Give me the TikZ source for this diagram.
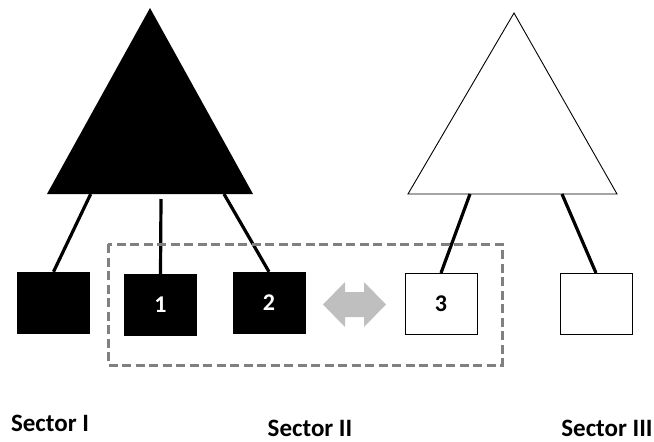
\documentclass[tikz,border=0pt]{standalone}
\usepackage{fontspec}
\setmainfont{Carlito}

\begin{document}
\begin{tikzpicture}[x=1pt, y=-1pt,
  darkbox/.style={draw=black, fill=black, text=white, minimum width=72pt, minimum height=61pt, inner sep=0pt, font=\bfseries\fontsize{24}{24}\selectfont},
  lightbox/.style={darkbox, fill=white, draw=black, line width=1pt, text=black},
  stem/.style={line width=3.2pt},
  sectorname/.style={font=\bfseries\fontsize{25}{25}\selectfont}
]
\useasboundingbox (0,0) rectangle (654,442);

% the two triangles
\coordinate (ba) at (150,8);
\coordinate (bl) at (47,194);
\coordinate (br) at (253,194);
\fill[black] (ba) -- (bl) -- (br) -- cycle;
\coordinate (wa) at (514,13);
\coordinate (wl) at (408,194);
\coordinate (wr) at (617,194);
\draw[black, line width=0.9pt] (wa) -- (wl) -- (wr) -- cycle;

% boxes
\node[darkbox] (s1) at (53.5,302.5) {};
\node[darkbox] (f1) at (160.5,304.5) {1};
\node[darkbox] (f2) at (269,302.5) {2};
\node[lightbox] (f3) at (441,304) {3};
\node[lightbox] (s3) at (596,304) {};

% stems
\coordinate (b1) at (90.7,194);
\coordinate (b2) at (161,199);
\coordinate (b3) at (224,194);
\coordinate (w1) at (470,194);
\coordinate (w2) at (562,194);
\draw[stem] (b1) -- (s1.north);
\draw[stem] (b2) -- (f1.north);
\draw[stem] (b3) -- (f2.north);
\draw[stem] (w1) -- (f3.north);
\draw[stem] (w2) -- (s3.north);

% group and exchange
\draw[black!50, line width=3pt, dash pattern=on 9pt off 4.5pt] (108,244) rectangle (502,365);
\fill[black!25] (323,304.5) -- (345,282) -- (345,292) -- (364,292) -- (364,282)
  -- (386,304.5) -- (364,327) -- (364,317) -- (345,317) -- (345,327) -- cycle;

% sector names
\node[sectorname] (n1) at (50,423) {Sector I};
\node[sectorname] (n2) at (310,428) {Sector II};
\node[sectorname] (n3) at (607,428) {Sector III};
\end{tikzpicture}
\end{document}
